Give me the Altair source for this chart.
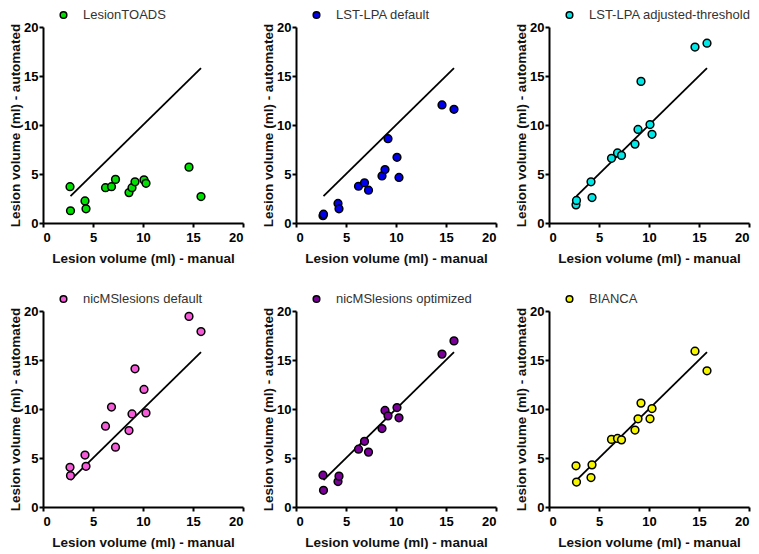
import altair as alt
import pandas as pd

# Manual lesion volumes (ml), shared by all panels
manual = [2.7, 2.75, 4.2, 4.3, 6.25, 6.85, 7.25, 8.6, 8.9, 9.2, 10.1, 10.3, 14.6, 15.8]

# Automated lesion volumes (ml) per method
lesiontoads = [3.7, 1.25, 2.25, 1.45, 3.6, 3.7, 4.45, 3.1, 3.6, 4.2, 4.4, 4.05, 5.7, 2.7]
lst_default = [0.75, 0.9, 2.0, 1.45, 3.75, 4.1, 3.35, 4.8, 5.45, 8.6, 6.7, 4.65, 12.05, 11.6]
lst_adjusted = [1.85, 2.3, 4.2, 2.6, 6.6, 7.15, 6.9, 8.05, 9.55, 14.45, 10.05, 9.05, 17.95, 18.35]
nic_default = [4.05, 3.2, 5.3, 4.15, 8.25, 10.2, 6.1, 7.8, 9.5, 14.1, 12.0, 9.6, 19.45, 17.9]
nic_optimized = [3.25, 1.7, 2.6, 3.15, 5.9, 6.7, 5.6, 8.0, 9.85, 9.3, 10.15, 9.1, 15.6, 16.95]
bianca = [4.2, 2.55, 3.0, 4.3, 6.9, 7.0, 6.85, 7.85, 9.0, 10.6, 9.0, 10.05, 15.9, 13.9]

methods = ["LesionTOADS", "LST-LPA default", "LST-LPA adjusted-threshold",
           "nicMSlesions default", "nicMSlesions optimized", "BIANCA"]
series = [lesiontoads, lst_default, lst_adjusted, nic_default, nic_optimized, bianca]
colors = ["#00E000", "#0000EE", "#00E8E8", "#F55BD8", "#7A0099", "#F5F500"]

# Line of identity drawn over the manual range
identity = [2.75, 15.8]

ticks = [0, 5, 10, 15, 20]
FONT = "Liberation Sans"
W, H = 200, 196


def panel(name, vals, color):
    pts = pd.DataFrame({"manual": manual, "auto": vals, "method": [name] * len(manual)})
    ln = pd.DataFrame({"manual": identity, "auto": identity})
    xenc = alt.X("manual:Q", scale=alt.Scale(domain=[0, 20], nice=False),
                 axis=alt.Axis(values=ticks, title="Lesion volume (ml) - manual",
                               labelPadding=4, titlePadding=7))
    yenc = alt.Y("auto:Q", scale=alt.Scale(domain=[0, 20], nice=False),
                 axis=alt.Axis(values=ticks, title="Lesion volume (ml) - automated",
                               labelPadding=1, titlePadding=1))
    line = alt.Chart(ln).mark_line(color="black", strokeWidth=1.8).encode(x=xenc, y=yenc)
    points = alt.Chart(pts).mark_point(
        shape="circle", filled=True, size=60, stroke="black", strokeWidth=1.5, opacity=1
    ).encode(
        x=xenc, y=yenc,
        color=alt.Color("method:N",
                        scale=alt.Scale(domain=[name], range=[color]),
                        legend=alt.Legend(title=None, orient="none", legendX=14, legendY=-18.5,
                                          padding=0, labelOffset=13, labelLimit=300,
                                          symbolSize=44, symbolStrokeWidth=1.5,
                                          symbolStrokeColor="black", symbolType="circle",
                                          labelFontSize=13, labelFont=FONT,
                                          labelColor="#333333"))
    )
    return alt.layer(line, points).properties(width=W, height=H)


panels = [panel(m, s, c) for m, s, c in zip(methods, series, colors)]

row1 = alt.hconcat(*panels[:3], spacing=17).resolve_scale(color="independent").resolve_legend(color="independent")
row2 = alt.hconcat(*panels[3:], spacing=17).resolve_scale(color="independent").resolve_legend(color="independent")

chart = alt.vconcat(row1, row2, spacing=27).resolve_scale(
    color="independent").resolve_legend(color="independent").properties(
    padding=0
).configure_view(stroke=None).configure_axis(
    grid=False, domainColor="black", domainWidth=2, tickColor="black", tickWidth=2,
    tickSize=4, labelFont=FONT, labelFontSize=13, labelFontWeight="bold", labelColor="black",
    titleFont=FONT, titleFontSize=13.5, titleFontWeight="bold", titleColor="#111111"
)

chart.save("out.html", embed_options={"renderer": "svg", "actions": False})
